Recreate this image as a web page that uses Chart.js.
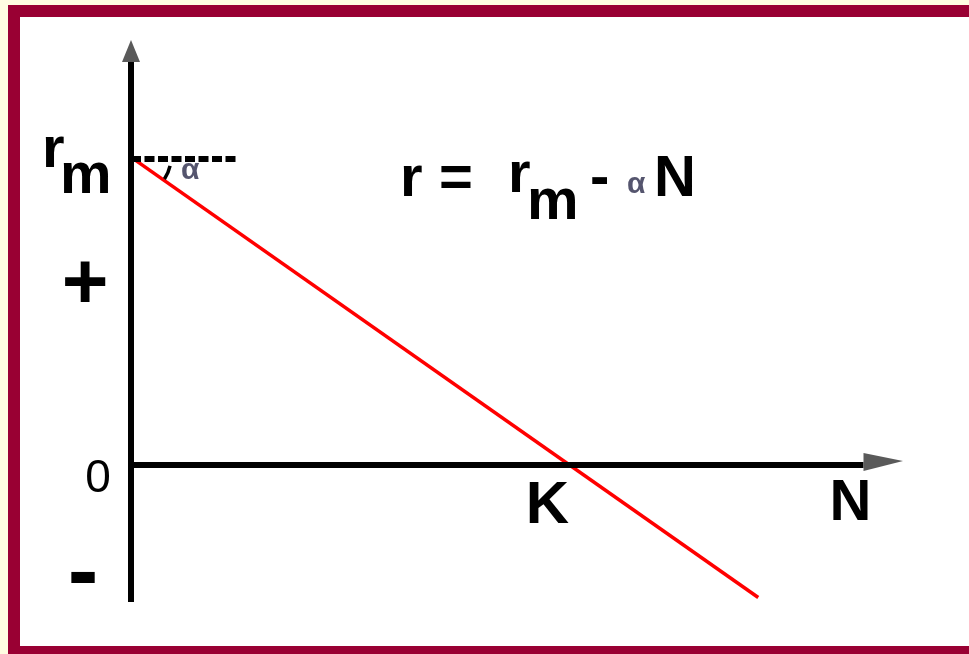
<!DOCTYPE html>
<html>
<head>
<meta charset="utf-8">
<script src="https://cdn.jsdelivr.net/npm/chart.js@4"></script>
<style>
  html, body { margin: 0; padding: 0; background: #fffde1; }
  canvas { display: block; }
</style>
</head>
<body>
<canvas id="c" width="969" height="654"></canvas>
<script>
// ---- data (N = population size, r = per-capita growth rate; r_m = 1, K = 100) ----
const rLineN = [0, 143];          // red line r = r_m - alpha*N
const rLineR = [1, -0.43];
const xAxisN = [0, 167];          // horizontal axis (r = 0)
const xAxisR = [0, 0];
const yAxisN = [0, 0];            // vertical axis (N = 0)
const yAxisR = [1.31, -0.445];
const dashN = [0, 24];            // dashed reference at r_m
const dashR = [0.994, 0.994];
const K_VALUE = 100;
const RM_VALUE = 1;
const yTickLabels = ['+', '0', '-'];
const yTickValues = [0.6, 0, -0.37];

const pts = (xs, ys) => xs.map((x, i) => ({ x: x, y: ys[i] }));

const framePlugin = {
  id: 'frame',
  beforeDraw(chart) {
    const ctx = chart.ctx;
    ctx.save();
    ctx.fillStyle = '#fffde1';
    ctx.fillRect(0, 0, 969, 654);
    ctx.fillStyle = '#990033';
    ctx.fillRect(8, 5, 961, 649);
    ctx.fillStyle = '#ffffff';
    ctx.fillRect(20, 17, 949, 629);
    ctx.restore();
  }
};

const labelPlugin = {
  id: 'labels',
  afterDatasetsDraw(chart) {
    const ctx = chart.ctx;
    const xs = chart.scales.x, ys = chart.scales.y;
    const x0 = xs.getPixelForValue(0);
    const y0 = ys.getPixelForValue(0);
    const yRm = ys.getPixelForValue(RM_VALUE);
    const xK = xs.getPixelForValue(K_VALUE);
    ctx.save();
    // arrow heads
    ctx.fillStyle = '#5a5a5a';
    ctx.beginPath();
    ctx.moveTo(x0, 40); ctx.lineTo(x0 - 9, 62); ctx.lineTo(x0 + 9, 62); ctx.closePath(); ctx.fill();
    const xEnd = xs.getPixelForValue(xAxisN[1]);
    ctx.beginPath();
    ctx.moveTo(xEnd, y0 - 12); ctx.lineTo(xs.right, y0 - 4); ctx.lineTo(xEnd, y0 + 6); ctx.closePath(); ctx.fill();
    // angle arc
    ctx.strokeStyle = '#000';
    ctx.lineWidth = 3.5;
    ctx.beginPath();
    ctx.arc(x0, yRm, 40, 0.22, 0.58);
    ctx.stroke();

    ctx.fillStyle = '#000';
    ctx.textBaseline = 'alphabetic';
    ctx.textAlign = 'left';
    const bold = s => 'bold ' + s + 'px "Liberation Sans", Arial, sans-serif';
    // r_m label on the y axis
    ctx.font = bold(58);
    ctx.fillText('r', x0 - 89, yRm + 10);
    ctx.fillText('m', x0 - 71, yRm + 36);
    // small alpha
    ctx.fillStyle = '#55556e';
    ctx.font = bold(30);
    ctx.fillText('α', 181, yRm + 22);
    // equation r = r_m - alpha N
    ctx.fillStyle = '#000';
    ctx.font = bold(58);
    ctx.fillText('r', 400, 196);
    ctx.fillText('=', 439, 196);
    ctx.fillText('r', 508, 192);
    ctx.fillText('m', 527, 219);
    ctx.fillText('-', 590, 196);
    ctx.fillStyle = '#55556e';
    ctx.font = bold(30);
    ctx.fillText('α', 627, 193);
    ctx.fillStyle = '#000';
    ctx.font = bold(58);
    ctx.fillText('N', 654, 196);
    // K and N axis labels
    ctx.font = bold(60);
    ctx.fillText('K', xK - 44, y0 + 58);
    ctx.font = bold(58);
    ctx.fillText('N', xEnd - 34, y0 + 55);
    // y tick labels
    ctx.textAlign = 'center';
    ctx.font = bold(80);
    ctx.fillText(yTickLabels[0], x0 - 46, ys.getPixelForValue(yTickValues[0]) + 28);
    ctx.font = '46px "Liberation Sans", Arial, sans-serif';
    ctx.fillText(yTickLabels[1], x0 - 33, y0 + 27);
    ctx.font = bold(92);
    ctx.fillText(yTickLabels[2], x0 - 48, ys.getPixelForValue(yTickValues[2]) + 23);
    ctx.restore();
  }
};

new Chart(document.getElementById('c'), {
  type: 'scatter',
  data: {
    datasets: [
      { data: pts(yAxisN, yAxisR), showLine: true, borderColor: '#000', borderWidth: 6, pointRadius: 0, clip: false, borderCapStyle: 'butt' },
      { data: pts(xAxisN, xAxisR), showLine: true, borderColor: '#000', borderWidth: 6, pointRadius: 0, clip: false, borderCapStyle: 'butt' },
      { data: pts(dashN, dashR), showLine: true, borderColor: '#000', borderWidth: 6, borderDash: [10, 3.5], pointRadius: 0, clip: false },
      { data: pts(rLineN, rLineR), showLine: true, borderColor: '#ff0000', borderWidth: 3.5, pointRadius: 0, clip: false }
    ]
  },
  options: {
    responsive: false,
    animation: false,
    devicePixelRatio: 1,
    layout: { padding: { left: 131, right: 66, top: 34, bottom: 35 } },
    plugins: { legend: { display: false }, tooltip: { enabled: false } },
    scales: {
      x: { type: 'linear', min: 0, max: 176, display: false },
      y: { type: 'linear', min: -0.5, max: 1.4, display: false }
    }
  },
  plugins: [framePlugin, labelPlugin]
});
</script>
</body>
</html>
